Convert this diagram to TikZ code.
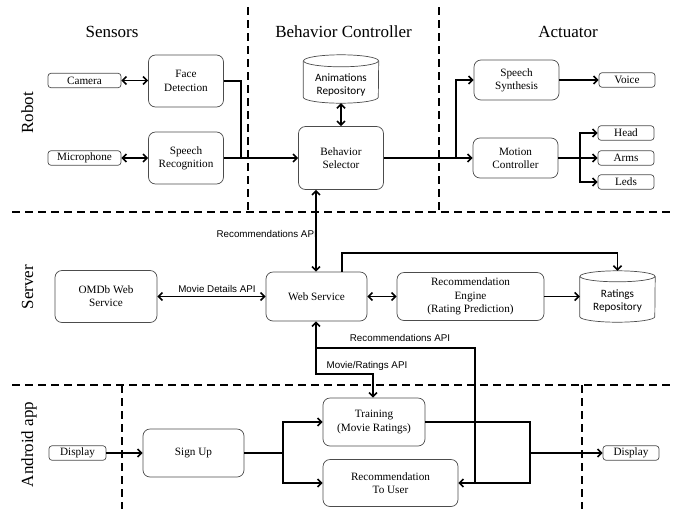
\documentclass[tikz,border=0pt]{standalone}
\usepackage{fontspec}
\setmainfont{Liberation Serif}
\newfontfamily\apifont{Liberation Sans}
\newfontfamily\cylfont{Carlito}
\usetikzlibrary{arrows.meta}
\newcommand\drawcyl[2]{%
  \draw[cylline] ([yshift=-#2]#1.north west) -- ([yshift=#2]#1.south west)
    arc[start angle=180, end angle=360, x radius=37.5pt, y radius=#2]
    -- ([yshift=-#2]#1.north east);
  \draw[cylline] ([yshift=-#2]#1.north) ellipse[x radius=37.5pt, y radius=#2];}
\begin{document}
\begin{tikzpicture}[x=1pt,y=-1pt,
  box/.style={draw=black!70, line width=0.7pt, rounded corners=7pt, align=center,
    font=\fontsize{11.2}{13.3}\selectfont, inner sep=0pt},
  dev/.style={draw=black!70, line width=0.7pt, rounded corners=3pt, align=center,
    font=\fontsize{11.2}{13}\selectfont, inner sep=0pt, minimum height=14.5pt},
  cylshape/.style={inner sep=0pt, minimum width=75pt},
  cylline/.style={draw=black!70, line width=0.7pt},
  cyltext/.style={align=center, font=\cylfont\fontsize{11.2}{13.5}\selectfont, inner sep=0pt},
  conn/.style={line width=1.6pt},
  arr/.style={conn, -{Straight Barb[length=4pt, width=8pt]}},
  darr/.style={conn, {Straight Barb[length=4pt, width=8pt]}-{Straight Barb[length=4pt, width=8pt]}},
  sep/.style={line width=1.3pt, dash pattern=on 8pt off 5pt},
  head/.style={font=\fontsize{17}{20}\selectfont},
  api/.style={font=\apifont\fontsize{9.8}{11}\selectfont, inner sep=0pt},
]
\useasboundingbox (0,0) rectangle (677,509);

% separators
\draw[sep] (12,212) -- (672,212);
\draw[sep] (12,385) -- (672,385);
\draw[sep] (248,7) -- (248,212);
\draw[sep] (439,7) -- (439,212);
\draw[sep] (122,385) -- (122,509);
\draw[sep] (582,385) -- (582,509);

% headers
\node[head] (hs) at (112,32) {Sensors};
\node[head] (hb) at (343.5,32) {Behavior Controller};
\node[head] (ha) at (568,32) {Actuator};
\node[head, rotate=90, anchor=base] (lr) at (33,113) {Robot};
\node[head, rotate=90, anchor=base] (ls) at (33,287) {Server};
\node[head, rotate=90, anchor=base] (la) at (33,444.5) {Android app};

% robot
\node[dev, minimum width=73pt] (cam) at (84.5,80.5) {Camera};
\node[dev, minimum width=73pt] (mic) at (84.5,158) {Microphone};
\node[box, minimum width=75pt, minimum height=52pt] (fd) at (186,81) {Face\\Detection};
\node[box, minimum width=75pt, minimum height=52pt] (sr) at (186,158) {Speech\\Recognition};
\node[box, minimum width=85pt, minimum height=63pt] (bs) at (341,158) {Behavior\\Selector};
\node[cylshape, minimum height=48pt] (ar) at (341,79) {};
\drawcyl{ar}{6pt}
\node[cyltext] (art) at ([yshift=-6pt]ar.center) {Animations\\Repository};
\node[box, minimum width=85pt, minimum height=40pt] (ss) at (516.5,80) {Speech\\Synthesis};
\node[box, minimum width=85pt, minimum height=40pt] (mc) at (515.5,158) {Motion\\Controller};
\node[dev, minimum width=56pt] (voice) at (627,80) {Voice};
\node[dev, minimum width=56pt] (headn) at (626,133) {Head};
\node[dev, minimum width=56pt] (arms) at (626,158) {Arms};
\node[dev, minimum width=56pt] (leds) at (626,182) {Leds};

% server
\node[box, minimum width=102pt, minimum height=52pt] (omdb) at (106,296.5) {OMDb Web\\Service};
\node[box, minimum width=101pt, minimum height=49pt] (ws) at (316.5,296.5) {Web Service};
\node[box, minimum width=147pt, minimum height=48pt] (re) at (470.5,296.5) {Recommendation\\Engine\\(Rating Prediction)};
\node[cylshape, minimum height=51pt] (rr) at (617.5,296.5) {};
\drawcyl{rr}{5.5pt}
\node[cyltext] (rrt) at ([yshift=-4.5pt]rr.center) {Ratings\\Repository};

% android
\node[dev, minimum width=57pt] (dl) at (77.5,453) {Display};
\node[box, minimum width=101pt, minimum height=48pt] (su) at (193.5,453) {Sign Up};
\node[box, minimum width=102pt, minimum height=48pt] (tr) at (374,422) {Training\\(Movie Ratings)};
\node[box, minimum width=135pt, minimum height=47pt] (ru) at (390.5,483) {Recommendation\\To User};
\node[dev, minimum width=56pt] (dr) at (631,453) {Display};

% robot connectors
\coordinate (j1) at (241,158);
\draw[darr] (cam.east) -- (cam.east -| fd.west);
\draw[darr] (mic.east) -- (mic.east -| sr.west);
\draw[conn] (fd.east) -| (j1);
\draw[arr] (sr.east) -- (bs.west);
\draw[darr] (ar.south) -- (bs.north);
\coordinate (j2) at (456,158);
\draw[arr] (bs.east) -- (mc.west);
\draw[arr] (j2) |- (ss.west);
\draw[arr] (ss.east) -- (ss.east -| voice.west);
\coordinate (j3) at (580,158);
\draw[arr] (mc.east) -- (arms.west);
\draw[arr] (j3) |- (headn.west);
\draw[arr] (j3) |- (leds.west);

% server connectors
\coordinate (x316) at (316,0);
\draw[darr] (bs.south -| x316) -- (ws.north -| x316);
\node[api, anchor=east] (l1) at (317,234) {Recommendations API};
\draw[darr] (omdb.east) -- (ws.west);
\node[api, anchor=south] (l2) at (217,293) {Movie Details API};
\draw[darr] (ws.east) -- (re.west);
\draw[arr] (re.east) -- (re.east -| rr.west);
\coordinate (t1) at (342,253);
\draw[arr] (ws.north -| t1) -- (t1) -| (rr.north);

% server-android connectors
\coordinate (k1) at (373,374);
\draw[darr] (ws.south -| x316) |- (k1) -- (k1 |- tr.north);
\coordinate (k2) at (316,348);
\coordinate (k3) at (475,483);
\draw[arr] (k2) -| (k3) -- (ru.east);
\coordinate (k4) at (530,483);
\draw[conn] (tr.east) -| (k4) -- (k3);
\draw[arr] (k4 |- dr.west) -- (dr.west);
\node[api] (l3) at (400,338) {Recommendations API};
\node[api] (l4) at (367,366) {Movie/Ratings API};

% android connectors
\draw[arr] (dl.east) -- (su.west);
\coordinate (j5) at (283,453);
\draw[conn] (su.east) -- (j5);
\draw[arr] (j5) |- (tr.west);
\draw[arr] (j5) |- (ru.west);
\end{tikzpicture}
\end{document}
